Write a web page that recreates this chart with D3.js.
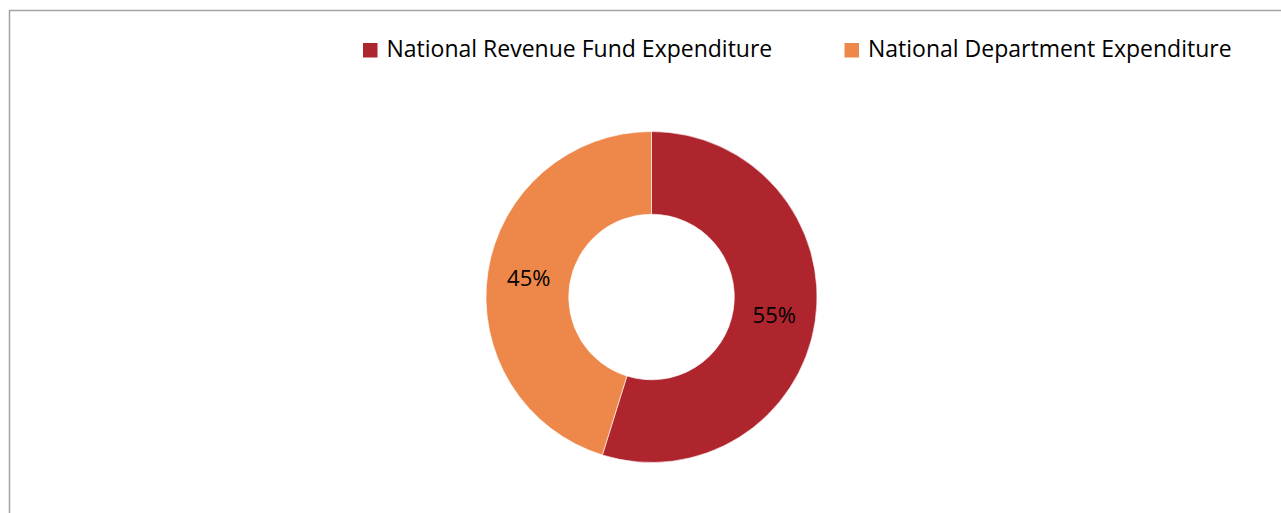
<!DOCTYPE html>
<html>
<head>
<meta charset="utf-8">
<script src="https://cdn.jsdelivr.net/npm/d3@7"></script>
<style>
  body { margin: 0; background: #fff; }
  svg text { font-family: "Open Sans", "Noto Sans", sans-serif; fill: #000; }
</style>
</head>
<body>
<div id="chart"></div>
<script>
// data
const categories = ["National Revenue Fund Expenditure", "National Department Expenditure"];
const shares = [54.8, 45.2];
const labels = ["55%", "45%"];
const colours = ["#ae252e", "#ed884a"];

const width = 1281, height = 513;
const cx = 651.5, cy = 297, outerR = 165.5, innerR = 82.8;

const svg = d3.select("#chart")
  .append("svg")
  .attr("width", width)
  .attr("height", height);

// chart frame (runs off the right and bottom of the picture)
svg.append("rect")
  .attr("x", 9.5)
  .attr("y", 10.5)
  .attr("width", 1300)
  .attr("height", 600)
  .attr("fill", "none")
  .attr("stroke", "#a3a3a3")
  .attr("stroke-width", 1.5);

const pie = d3.pie().sort(null).value(d => d);
const arc = d3.arc().innerRadius(innerR).outerRadius(outerR);
const arcs = pie(shares);

const g = svg.append("g").attr("transform", "translate(" + cx + "," + cy + ")");

g.selectAll("path")
  .data(arcs)
  .enter()
  .append("path")
  .attr("d", arc)
  .attr("fill", (d, i) => colours[i])
  .attr("stroke", "#fff")
  .attr("stroke-width", 0.6);

g.selectAll("text")
  .data(arcs)
  .enter()
  .append("text")
  .attr("transform", d => "translate(" + arc.centroid(d) + ")")
  .attr("text-anchor", "middle")
  .attr("dy", "0.35em")
  .style("font-size", "22px")
  .text((d, i) => labels[i]);

// legend
const legendX = [363, 844.5];
const legend = svg.selectAll(".leg")
  .data(categories)
  .enter()
  .append("g")
  .attr("class", "leg")
  .attr("transform", (d, i) => "translate(" + legendX[i] + ",43)");

legend.append("rect")
  .attr("width", 14.5)
  .attr("height", 14.5)
  .attr("fill", (d, i) => colours[i]);

legend.append("text")
  .attr("x", 23.5)
  .attr("y", 14)
  .style("font-size", "23px")
  .text(d => d);
</script>
</body>
</html>
